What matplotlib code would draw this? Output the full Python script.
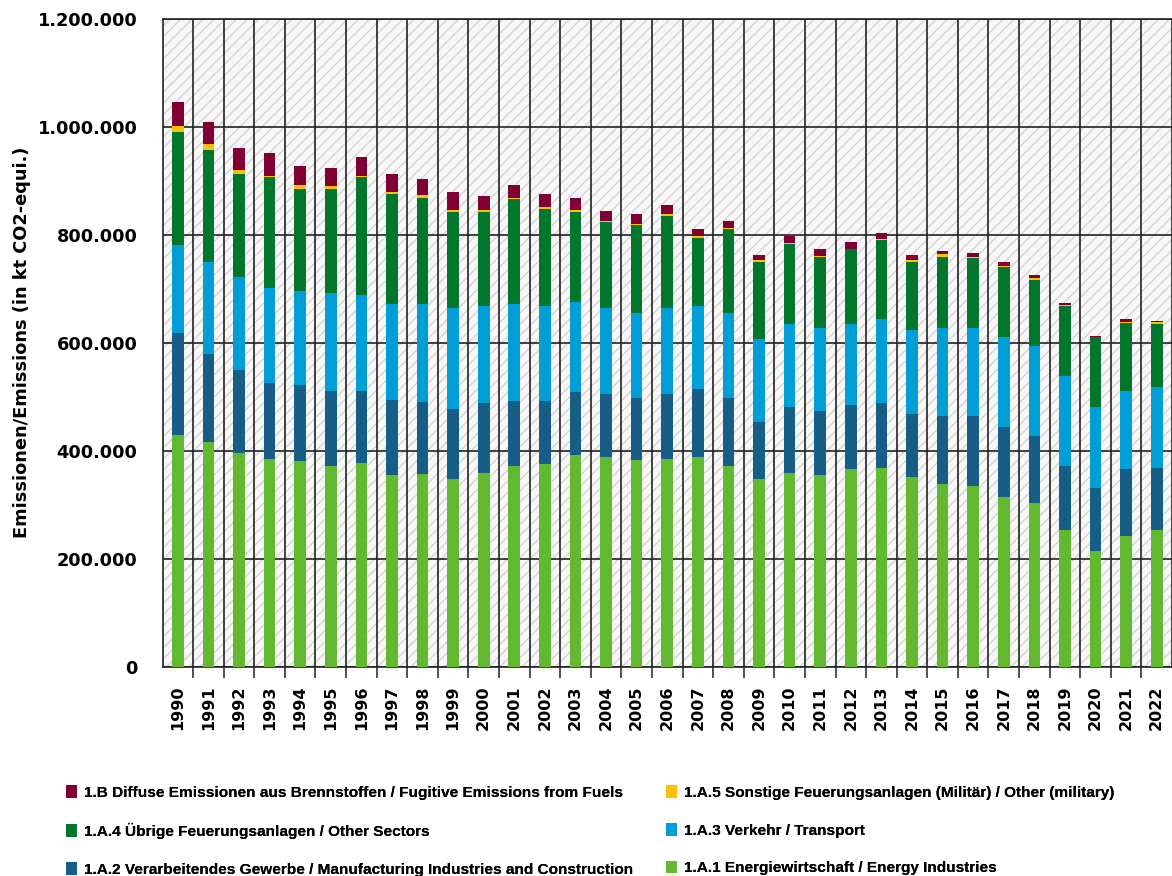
import matplotlib.pyplot as plt
import matplotlib.ticker as mticker
from matplotlib.patches import Rectangle, Patch
import numpy as np

years = [str(y) for y in range(1990, 2023)]

# emissions in kt CO2-equivalent
energy = [429300, 415800, 395400, 385400, 381700, 371900, 378000, 354700, 357700, 347900,
          358100, 371900, 375600, 392300, 389100, 382500, 385400, 389100, 371900, 348400,
          358400, 354700, 365800, 368800, 352100, 338600, 334900, 314600, 304000, 253000,
          215200, 242400, 253000]
manufacturing = [188200, 163400, 153600, 139500, 139500, 139300, 133200, 139300, 133200, 129000,
                 129900, 119700, 116000, 116000, 115500, 115300, 119200, 125800, 125800, 105500,
                 122700, 119500, 118400, 119200, 115500, 125300, 129000, 129000, 122900, 119500,
                 115700, 123400, 115300]
transport = [162800, 170200, 173200, 176900, 173900, 180200, 177100, 177100, 180200, 187400,
             179700, 179500, 176300, 166500, 160200, 156700, 160200, 153000, 156700, 152500,
             153000, 153000, 149900, 156000, 156000, 163400, 163400, 167100, 166500, 166000,
             149700, 145400, 149900]
other_sectors = [210200, 207200, 190000, 204300, 189900, 193600, 217800, 204100, 197300, 177100,
                 173400, 194300, 179500, 166500, 159100, 162800, 169100, 125300, 156000, 143000,
                 149100, 131900, 138800, 146200, 125300, 131900, 129000, 129000, 122100, 129500,
                 129500, 125800, 116000]
military = [11100, 11100, 7400, 3000, 7400, 4400, 3000, 3700, 4400, 3700,
            4100, 2500, 3700, 3700, 2000, 2000, 4300, 3700, 2000, 3700,
            1500, 1500, 1500, 1500, 4800, 4400, 1500, 1500, 3700, 1000,
            800, 1000, 3700]
fugitive = [43300, 40200, 40700, 41400, 34000, 33300, 34600, 33900, 29600, 33300,
            27000, 24500, 24100, 23300, 18400, 18400, 16700, 13500, 12200, 9800,
            12200, 12400, 12000, 12000, 9300, 6100, 8900, 8300, 6100, 5100,
            2200, 5800, 3000]

series = [
    ("1.A.1 Energiewirtschaft / Energy Industries", energy, "#62b830"),
    ("1.A.2 Verarbeitendes Gewerbe / Manufacturing Industries and Construction", manufacturing, "#165e86"),
    ("1.A.3 Verkehr / Transport", transport, "#009ed6"),
    ("1.A.4 Übrige Feuerungsanlagen / Other Sectors", other_sectors, "#01762c"),
    ("1.A.5 Sonstige Feuerungsanlagen (Militär) / Other (military)", military, "#ffc000"),
    ("1.B Diffuse Emissionen aus Brennstoffen / Fugitive Emissions from Fuels", fugitive, "#800034"),
]

fig = plt.figure(figsize=(11.72, 8.76), dpi=100)
ax = fig.add_axes([162.5 / 1172, 1 - 667 / 876, 1 - 162.5 / 1172, (667 - 18.5) / 876])

# hatched plot background
ax.set_facecolor("white")
ax.add_patch(Rectangle((0, 0), 1, 1, transform=ax.transAxes, facecolor="#f7f7f7",
                       edgecolor="#d4d4d4", hatch="///", linewidth=0, zorder=0))

x = np.arange(len(years))
bottom = np.zeros(len(years))
handles = {}
for label, vals, color in series:
    ax.bar(x, vals, width=0.38, bottom=bottom, color=color, zorder=3, linewidth=0)
    bottom += np.array(vals)
    handles[label] = Patch(facecolor=color, edgecolor="none", label=label)

ax.set_xlim(-0.5, len(years) - 0.5)
ax.set_ylim(0, 1200000)

ax.yaxis.set_major_locator(mticker.MultipleLocator(200000))
ax.yaxis.set_major_formatter(mticker.FuncFormatter(lambda v, p: f"{int(v):,}".replace(",", ".")))
ax.set_xticks(x)
ax.set_xticklabels(years, rotation=90, fontweight="bold", fontsize=11.5)
ax.set_xticks(x[:-1] + 0.5, minor=True)
ax.tick_params(axis="x", which="major", length=0, pad=13)
ax.tick_params(axis="x", which="minor", length=8, width=1.1, color="#222222")
ax.tick_params(axis="y", length=0, pad=18)
for t in ax.get_yticklabels():
    t.set_fontweight("bold")
    t.set_fontsize(12.8)

ax.grid(axis="y", which="major", color="#222222", linewidth=1.2, zorder=1)
ax.grid(axis="x", which="minor", color="#222222", linewidth=1.2, zorder=1)
ax.set_axisbelow(True)
for s in ax.spines.values():
    s.set_color("#222222")
    s.set_linewidth(1.2)

ax.set_ylabel("Emissionen/Emissions (in kt CO2-equi.)", fontweight="bold", fontsize=12.8, labelpad=5)

legend_font = {"family": "Liberation Sans", "weight": "bold", "size": 11.1}
left_labels = [series[5][0], series[3][0], series[1][0]]
right_labels = [series[4][0], series[2][0], series[0][0]]
for labels, xpos in [(left_labels, 66), (right_labels, 666)]:
    leg = fig.legend(handles=[handles[l] for l in labels], loc="upper left",
                     bbox_to_anchor=(xpos / 1172, 1 - 785 / 876), frameon=False,
                     prop=legend_font, handlelength=0.7, handleheight=0.9,
                     handletextpad=0.45, labelspacing=1.5, borderpad=0, borderaxespad=0)
    fig.add_artist(leg)

fig.savefig("out.png", dpi=100)
